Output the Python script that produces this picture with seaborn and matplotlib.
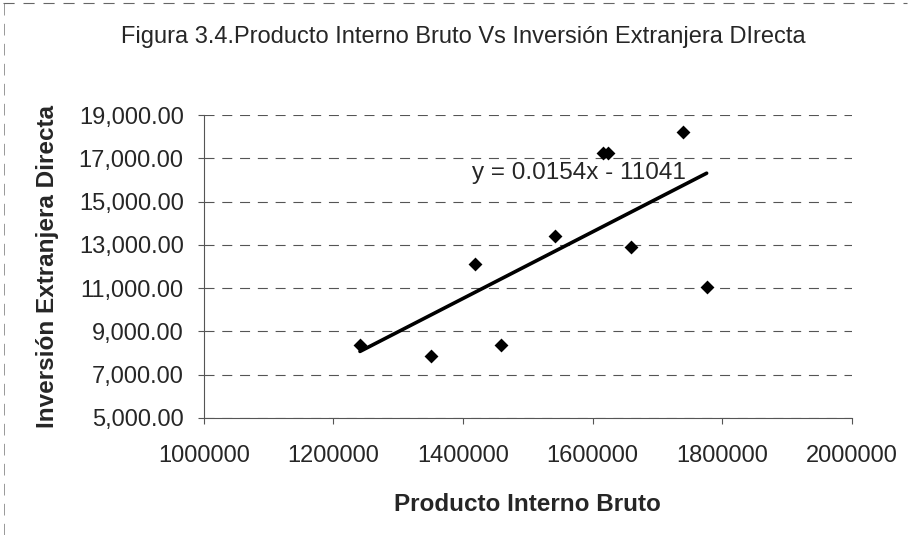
import matplotlib
matplotlib.use('Agg')
import matplotlib.pyplot as plt
import seaborn as sns
import numpy as np
import pandas as pd

# data
pib = [1241000, 1350000, 1419000, 1459000, 1542000, 1616000, 1624000, 1660000, 1740000, 1776000]
ied = [8380, 7870, 12100, 8380, 13420, 17230, 17230, 12920, 18200, 11070]
slope = 0.0154
intercept = -11041
y_ticks = [5000, 7000, 9000, 11000, 13000, 15000, 17000, 19000]
x_ticks = [1000000, 1200000, 1400000, 1600000, 1800000, 2000000]

df = pd.DataFrame({'PIB': pib, 'IED': ied})
trend_x = np.array([min(pib), max(pib)])
trend = pd.DataFrame({'PIB': trend_x, 'IED': slope * trend_x + intercept})

sns.set_style('white')
plt.rcParams['font.family'] = ['Liberation Sans', 'DejaVu Sans']

fig = plt.figure(figsize=(9.1, 5.35), dpi=100)
ax = fig.add_axes([0.224, 0.219, 0.712, 0.566])

# SCATTER + TREND LINE
sns.scatterplot(data=df, x='PIB', y='IED', marker='D', s=50, color='black',
                edgecolor='black', linewidth=0, ax=ax, zorder=3)
sns.lineplot(data=trend, x='PIB', y='IED', color='black', linewidth=2.6, ax=ax, zorder=2)

ax.set_xlim(1000000, 2000000)
ax.set_ylim(5000, 19000)
ax.set_xticks(x_ticks)
ax.set_xticklabels([str(v) for v in x_ticks], fontsize=17)
ax.set_yticks(y_ticks)
ax.set_yticklabels(['{:,.2f}'.format(v) for v in y_ticks], fontsize=17)

ax.yaxis.grid(True, color='#555555', linestyle=(0, (9, 7)), linewidth=0.8)
ax.xaxis.grid(False)
for side in ['top', 'right']:
    ax.spines[side].set_visible(False)
ax.spines['left'].set_color('#555555')
ax.spines['bottom'].set_color('#555555')
ax.spines['left'].set_linewidth(0.8)
ax.spines['bottom'].set_linewidth(0.8)
ax.tick_params(axis='both', which='both', length=4.5, width=0.8, color='#555555',
               left=True, bottom=True, direction='out')
ax.tick_params(axis='y', pad=10)
ax.tick_params(axis='x', pad=15)

ax.set_xlabel('Producto Interno Bruto', fontsize=17.5, fontweight='bold', labelpad=19)
ax.set_ylabel('Inversión Extranjera Directa', fontsize=17.5, fontweight='bold', labelpad=14)

ax.text(1413600, 16298, 'y = 0.0154x - 11041', fontsize=17.5, ha='left', va='center')

fig.text(0.509, 0.931, 'Figura 3.4.Producto Interno Bruto Vs Inversión Extranjera DIrecta',
         fontsize=17, ha='center', va='center')

# dashed frame of the chart area (top and left edges)
fig.add_artist(plt.Line2D([0.003, 0.997], [0.994, 0.994], transform=fig.transFigure,
                          color='#666666', linestyle=(0, (10, 8)), linewidth=0.8))
fig.add_artist(plt.Line2D([0.004, 0.004], [0.0, 0.994], transform=fig.transFigure,
                          color='#888888', linestyle=(0, (14, 10)), linewidth=0.6))

plt.savefig('out.png', dpi=100)
